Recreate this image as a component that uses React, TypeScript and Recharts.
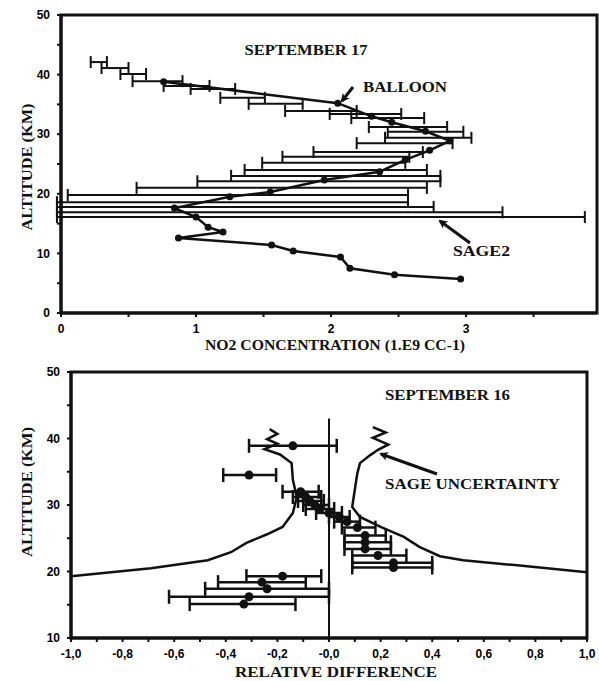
import {
  ScatterChart,
  Scatter,
  XAxis,
  YAxis,
  ErrorBar,
  ReferenceArea,
  ReferenceLine,
} from "recharts";

// --- top panel: September 17, NO2 concentration (1.E9 cc-1)
const balloonAlt = [5.7, 6.4, 7.5, 9.4, 10.4, 11.4, 12.6, 13.6, 14.4, 16.1, 17.6, 19.5, 20.3, 22.3, 23.7, 25.7, 27.3, 28.9, 30.5, 32.0, 33.0, 35.2, 38.8];
const balloonConc = [2.96, 2.47, 2.14, 2.07, 1.72, 1.56, 0.87, 1.2, 1.09, 1.0, 0.84, 1.25, 1.55, 1.95, 2.36, 2.55, 2.73, 2.88, 2.7, 2.45, 2.3, 2.05, 0.76];

const sageAlt = [42.1, 41.1, 40.1, 38.9, 38.1, 37.6, 36.1, 35.1, 33.9, 33.4, 32.7, 31.2, 30.4, 29.4, 28.5, 27.0, 26.2, 25.2, 24.0, 23.0, 22.1, 21.0, 19.8, 18.6, 17.8, 16.9, 16.1];
const sageLow = [0.22, 0.3, 0.44, 0.53, 0.76, 0.96, 1.18, 1.39, 1.66, 1.99, 2.15, 2.28, 2.42, 2.4, 2.19, 1.87, 1.64, 1.49, 1.36, 1.26, 1.01, 0.56, 0.05, -0.03, -0.03, -0.03, -0.03];
const sageHigh = [0.34, 0.5, 0.63, 0.9, 1.1, 1.29, 1.51, 1.79, 2.19, 2.52, 2.69, 2.86, 2.98, 3.04, 2.9, 2.68, 2.58, 2.55, 2.71, 2.81, 2.81, 2.71, 2.57, 2.57, 2.76, 3.27, 3.88];

const concTicks = [0, 0.5, 1, 1.5, 2, 2.5, 3, 3.5];
const concLabels = ["0", "", "1", "", "2", "", "3", ""];
const altTicksTop = [0, 5, 10, 15, 20, 25, 30, 35, 40, 45, 50];
const altLabelsTop = ["0", "", "10", "", "20", "", "30", "", "40", "", "50"];

// --- bottom panel: September 16, relative difference
const diffAlt = [38.9, 34.5, 32.0, 31.2, 30.6, 30.0, 29.4, 28.8, 28.2, 27.5, 26.6, 25.4, 24.4, 23.4, 22.4, 21.3, 20.6, 19.3, 18.4, 17.4, 16.2, 15.1];
const diffVal = [-0.14, -0.31, -0.11, -0.09, -0.075, -0.055, -0.035, 0.0, 0.04, 0.07, 0.11, 0.14, 0.14, 0.14, 0.19, 0.25, 0.25, -0.18, -0.26, -0.24, -0.31, -0.33];
const diffLow = [-0.31, -0.41, -0.18, -0.14, -0.12, -0.1, -0.09, -0.05, 0.0, 0.02, 0.05, 0.06, 0.06, 0.06, 0.09, 0.09, 0.09, -0.32, -0.43, -0.48, -0.62, -0.54];
const diffHigh = [0.03, -0.205, -0.04, -0.03, -0.02, 0.0, 0.02, 0.05, 0.08, 0.12, 0.18, 0.22, 0.24, 0.24, 0.3, 0.4, 0.4, -0.03, -0.09, 0.0, 0.0, -0.13];

const uncLeftAlt = [19.3, 20.5, 21.7, 22.9, 24.3, 25.6, 26.7, 28.8, 31.2, 33.8, 36.3, 37.6, 38.4, 39.2, 39.9, 40.7, 41.4];
const uncLeftVal = [-1.0, -0.69, -0.47, -0.38, -0.32, -0.24, -0.18, -0.14, -0.125, -0.14, -0.145, -0.19, -0.25, -0.2, -0.24, -0.2, -0.23];
const uncRightAlt = [19.9, 21.0, 21.7, 22.3, 23.7, 25.2, 26.7, 28.2, 29.7, 32.3, 34.8, 36.3, 37.5, 38.3, 39.1, 40.1, 40.9, 41.7];
const uncRightVal = [1.0, 0.71, 0.52, 0.43, 0.35, 0.29, 0.2, 0.12, 0.09, 0.1, 0.11, 0.12, 0.16, 0.19, 0.23, 0.17, 0.22, 0.17];

const diffTicks = [-1, -0.9, -0.8, -0.7, -0.6, -0.5, -0.4, -0.3, -0.2, -0.1, 0, 0.1, 0.2, 0.3, 0.4, 0.5, 0.6, 0.7, 0.8, 0.9, 1];
const diffLabels = ["-1,0", "", "-0,8", "", "-0,6", "", "-0,4", "", "-0,2", "", "-0,0", "", "0,2", "", "0,4", "", "0,6", "", "0,8", "", "1,0"];
const altTicksBottom = [10, 15, 20, 25, 30, 35, 40, 45, 50];
const altLabelsBottom = ["10", "", "20", "", "30", "", "40", "", "50"];

const balloon = balloonAlt.map((a, i) => ({ x: balloonConc[i], y: a }));
const sage = sageAlt.map((a, i) => ({
  x: (sageLow[i] + sageHigh[i]) / 2,
  y: a,
  err: (sageHigh[i] - sageLow[i]) / 2,
}));
const diffs = diffAlt.map((a, i) => ({
  x: diffVal[i],
  y: a,
  err: [diffVal[i] - diffLow[i], diffHigh[i] - diffVal[i]],
}));
const uncLeft = uncLeftAlt.map((a, i) => ({ x: uncLeftVal[i], y: a }));
const uncRight = uncRightAlt.map((a, i) => ({ x: uncRightVal[i], y: a }));

const label = (ticks: number[], labels: string[]) => (v: number) => {
  const i = ticks.findIndex((t) => Math.abs(t - v) < 1e-6);
  return i >= 0 ? labels[i] : "";
};

const tickFont = { fontFamily: "Liberation Sans", fontWeight: 700, fontSize: 12, fill: "#000" };
const serif = "Liberation Serif";
const ink = "#111";

const dot = (r: number) => (p: any) => <circle cx={p.cx} cy={p.cy} r={r} fill={ink} />;
const none = () => <g />;

// scanned lettering is wider than the installed serif, so stretch each title to its width
const T = ({ x, y, w, children, anchor = "start", transform }: any) => (
  <text
    x={x}
    y={y}
    textAnchor={anchor}
    transform={transform}
    textLength={w}
    lengthAdjust="spacingAndGlyphs"
  >
    {children}
  </text>
);

const App = () => {
  return (
    <div style={{ position: "absolute", left: 0, top: 0, width: 599, height: 681, background: "#fff" }}>
      <div style={{ position: "absolute", left: 0, top: 0 }}>
        <ScatterChart width={599} height={340} margin={{ top: 15, right: 2, left: 0, bottom: 2 }}>
          <XAxis
            type="number"
            dataKey="x"
            domain={[0, 3.97]}
            allowDataOverflow
            ticks={concTicks}
            tickFormatter={label(concTicks, concLabels)}
            tick={tickFont}
            tickSize={4}
            tickMargin={7}
            height={25}
            axisLine={{ stroke: ink, strokeWidth: 3 }}
            tickLine={{ stroke: ink, strokeWidth: 2 }}
          />
          <YAxis
            type="number"
            dataKey="y"
            domain={[0, 50]}
            allowDataOverflow
            ticks={altTicksTop}
            tickFormatter={label(altTicksTop, altLabelsTop)}
            tick={tickFont}
            tickSize={4}
            tickMargin={7}
            width={61}
            axisLine={{ stroke: ink, strokeWidth: 3 }}
            tickLine={{ stroke: ink, strokeWidth: 2 }}
          />
          <ReferenceArea x1={0} x2={3.97} y1={0} y2={50} fill="none" fillOpacity={0} stroke={ink} strokeWidth={3} />
          <Scatter data={sage} shape={none} isAnimationActive={false}>
            <ErrorBar dataKey="err" direction="x" width={6} stroke={ink} strokeWidth={2} />
          </Scatter>
          <Scatter
            data={balloon}
            shape={dot(3.5)}
            line={{ stroke: ink, strokeWidth: 2.5 }}
            isAnimationActive={false}
          />
        </ScatterChart>
      </div>

      <div style={{ position: "absolute", left: 0, top: 340 }}>
        <ScatterChart width={599} height={341} margin={{ top: 32, right: 12, left: 0, bottom: 18 }}>
          <XAxis
            type="number"
            dataKey="x"
            domain={[-1, 1]}
            allowDataOverflow
            ticks={diffTicks}
            tickFormatter={label(diffTicks, diffLabels)}
            tick={tickFont}
            tickSize={4}
            tickMargin={7}
            height={25}
            axisLine={{ stroke: ink, strokeWidth: 3 }}
            tickLine={{ stroke: ink, strokeWidth: 2 }}
          />
          <YAxis
            type="number"
            dataKey="y"
            domain={[10, 50]}
            allowDataOverflow
            ticks={altTicksBottom}
            tickFormatter={label(altTicksBottom, altLabelsBottom)}
            tick={tickFont}
            tickSize={4}
            tickMargin={7}
            width={71}
            axisLine={{ stroke: ink, strokeWidth: 3 }}
            tickLine={{ stroke: ink, strokeWidth: 2 }}
          />
          <ReferenceArea x1={-1} x2={1} y1={10} y2={50} fill="none" fillOpacity={0} stroke={ink} strokeWidth={3} />
          <ReferenceLine segment={[{ x: 0, y: 43 }, { x: 0, y: 10 }]} stroke={ink} strokeWidth={2} />
          <Scatter data={uncLeft} shape={none} line={{ stroke: ink, strokeWidth: 2.5 }} isAnimationActive={false} />
          <Scatter data={uncRight} shape={none} line={{ stroke: ink, strokeWidth: 2.5 }} isAnimationActive={false} />
          <Scatter data={diffs} shape={dot(4.5)} isAnimationActive={false}>
            <ErrorBar dataKey="err" direction="x" width={7} stroke={ink} strokeWidth={2.5} />
          </Scatter>
        </ScatterChart>
      </div>

      <svg
        width={599}
        height={681}
        style={{ position: "absolute", left: 0, top: 0, pointerEvents: "none" }}
      >
        <defs>
          <marker id="head" markerWidth="9" markerHeight="9" refX="7" refY="4.5" orient="auto" markerUnits="userSpaceOnUse">
            <path d="M0,0 L9,4.5 L0,9 L2.5,4.5 Z" fill={ink} />
          </marker>
        </defs>
        <g fontFamily={serif} fontWeight={700} fontSize={15} fill={ink}>
          <T x={306} y={55} w={123} anchor="middle">SEPTEMBER 17</T>
          <T x={363} y={92} w={84}>BALLOON</T>
          <T x={453} y={256} w={57}>SAGE2</T>
          <T x={335} y={350} w={260} anchor="middle">NO2 CONCENTRATION (1.E9 CC-1)</T>
          <T transform="translate(32,167) rotate(-90)" x={0} y={0} w={127} anchor="middle">ALTITUDE (KM)</T>
          <T x={385} y={400} w={125}>SEPTEMBER 16</T>
          <T x={385} y={489} w={175}>SAGE UNCERTAINTY</T>
          <T x={336} y={677} w={202} anchor="middle">RELATIVE DIFFERENCE</T>
          <T transform="translate(32,492) rotate(-90)" x={0} y={0} w={130} anchor="middle">ALTITUDE (KM)</T>
        </g>
        <g stroke={ink} strokeWidth={3} fill="none">
          <line x1={353} y1={87} x2={342} y2={101} markerEnd="url(#head)" />
          <line x1={470} y1={243} x2={440} y2={221} markerEnd="url(#head)" />
          <line x1={437} y1={474} x2={381} y2={454} markerEnd="url(#head)" />
        </g>
      </svg>
    </div>
  );
};

export default App;
